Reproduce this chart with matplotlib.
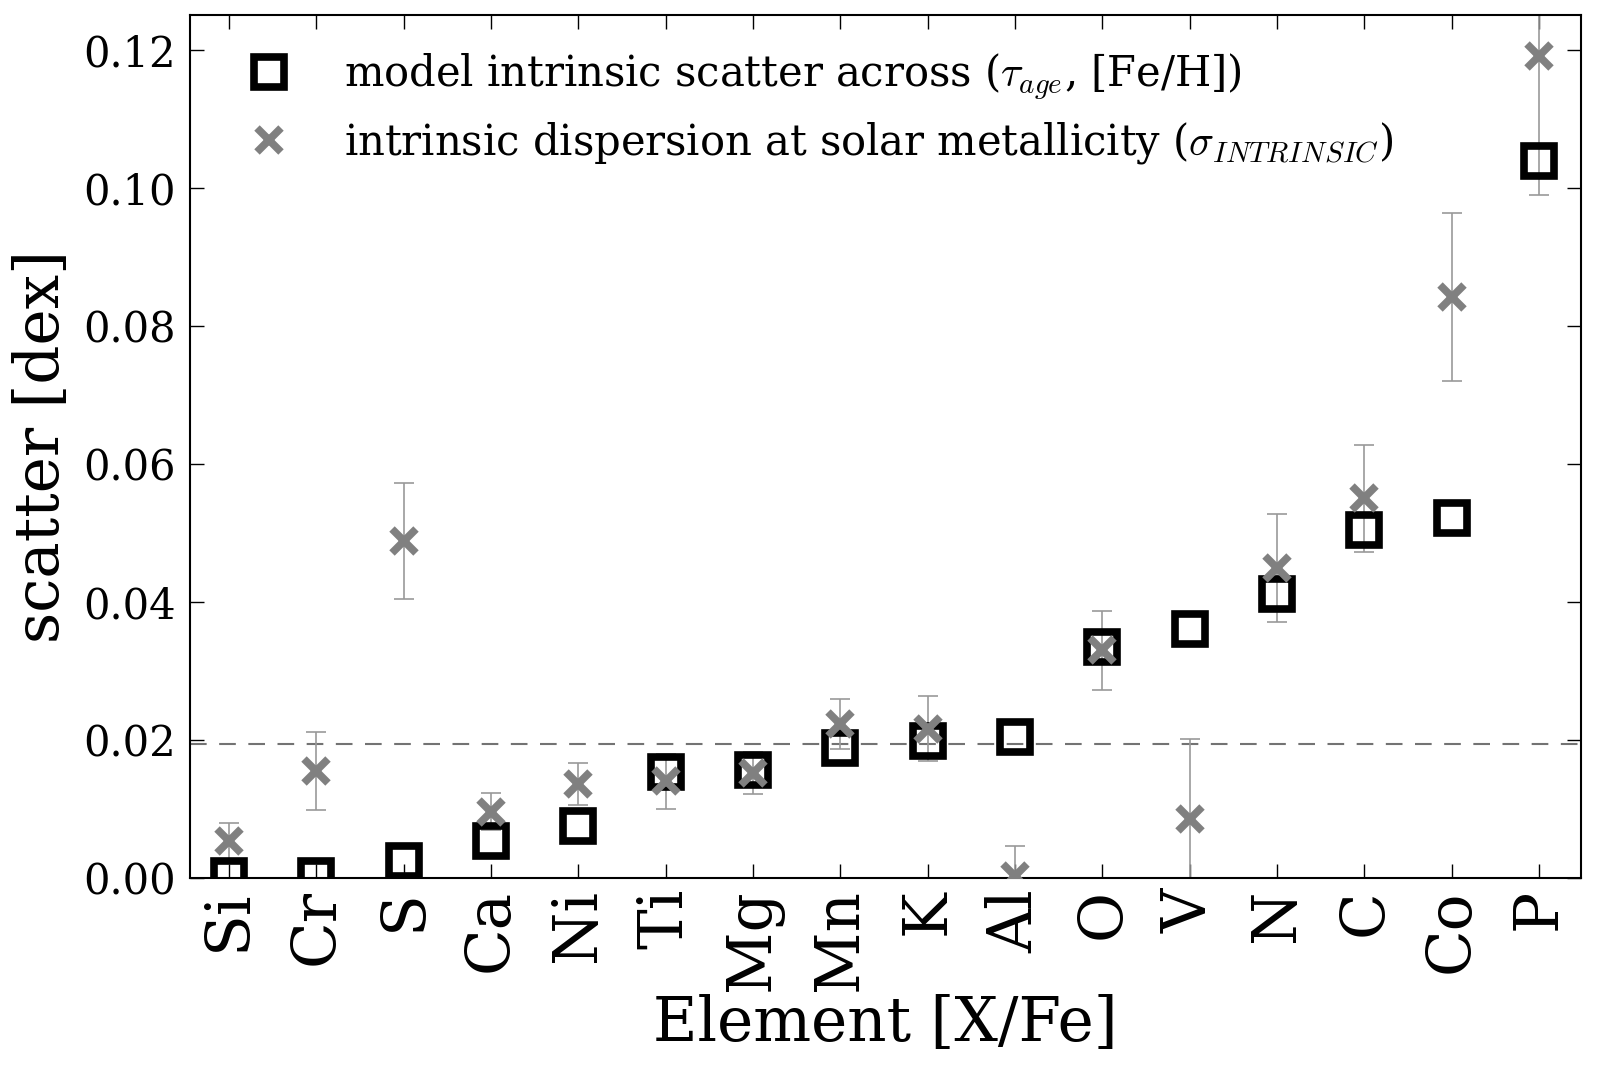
import matplotlib
matplotlib.use("Agg")
import matplotlib.pyplot as plt
import numpy as np

elements = ["Si", "Cr", "S", "Ca", "Ni", "Ti", "Mg", "Mn", "K", "Al", "O", "V", "N", "C", "Co", "P"]
model_scatter = [0.0003, 0.0003, 0.0025, 0.0053, 0.0075, 0.0154, 0.0157, 0.0189,
                 0.0198, 0.0204, 0.0334, 0.0361, 0.0412, 0.0504, 0.0522, 0.1039]
intrinsic = [0.0053, 0.0155, 0.0488, 0.0096, 0.0136, 0.0140, 0.0152, 0.0223,
             0.0216, 0.0003, 0.0330, 0.0086, 0.0449, 0.0550, 0.0842, 0.1191]
intrinsic_err = [0.0027, 0.0056, 0.0084, 0.0027, 0.0030, 0.0040, 0.0031, 0.0036,
                 0.0047, 0.0043, 0.0057, 0.0116, 0.0078, 0.0078, 0.0122, 0.0202]
threshold = 0.0194

plt.rcParams["font.family"] = "DejaVu Serif"
plt.rcParams["mathtext.fontset"] = "cm"

fig = plt.figure(figsize=(15.97, 10.72), dpi=100)
ax = fig.add_axes([0.1187, 0.181, 0.8713, 0.8047])

x = np.arange(len(elements))
ax.axhline(threshold, color="0.45", ls="--", lw=1.5, dashes=(8, 6), zorder=1)
ax.errorbar(x, intrinsic, yerr=intrinsic_err, fmt="none", ecolor="0.6", elinewidth=1.2,
            capsize=7, capthick=1.2, zorder=2)
ax.plot(x, model_scatter, ls="none", marker="s", ms=21, mfc="none", mec="black", mew=5.5,
        zorder=3, label=r"model intrinsic scatter across ($\tau_{age}$, [Fe/H])")
ax.plot(x, intrinsic, ls="none", marker="x", ms=17, mec="0.5", mew=5.5, zorder=4,
        label=r"intrinsic dispersion at solar metallicity ($\sigma_{INTRINSIC}$)")

ax.set_xlim(-0.45, 15.48)
ax.set_ylim(0, 0.125)
ax.set_yticks([0.0, 0.02, 0.04, 0.06, 0.08, 0.10, 0.12])
ax.set_yticklabels(["0.00", "0.02", "0.04", "0.06", "0.08", "0.10", "0.12"])
ax.set_xticks(x)
ax.set_xticklabels(elements, rotation=90)
ax.tick_params(axis="y", labelsize=30, direction="in", length=10, width=1, right=True, pad=10)
ax.tick_params(axis="x", labelsize=44, direction="in", length=10, width=1, top=True, pad=8)
for s in ax.spines.values():
    s.set_linewidth(1.5)

ax.set_xlabel("Element [X/Fe]", fontsize=44, labelpad=2)
ax.set_ylabel("scatter [dex]", fontsize=44, labelpad=8)

ax.legend(loc="upper left", frameon=False, numpoints=1, fontsize=30,
          handletextpad=0.8, labelspacing=0.45, bbox_to_anchor=(0.0, 1.002))

fig.savefig("out.png", dpi=100)
